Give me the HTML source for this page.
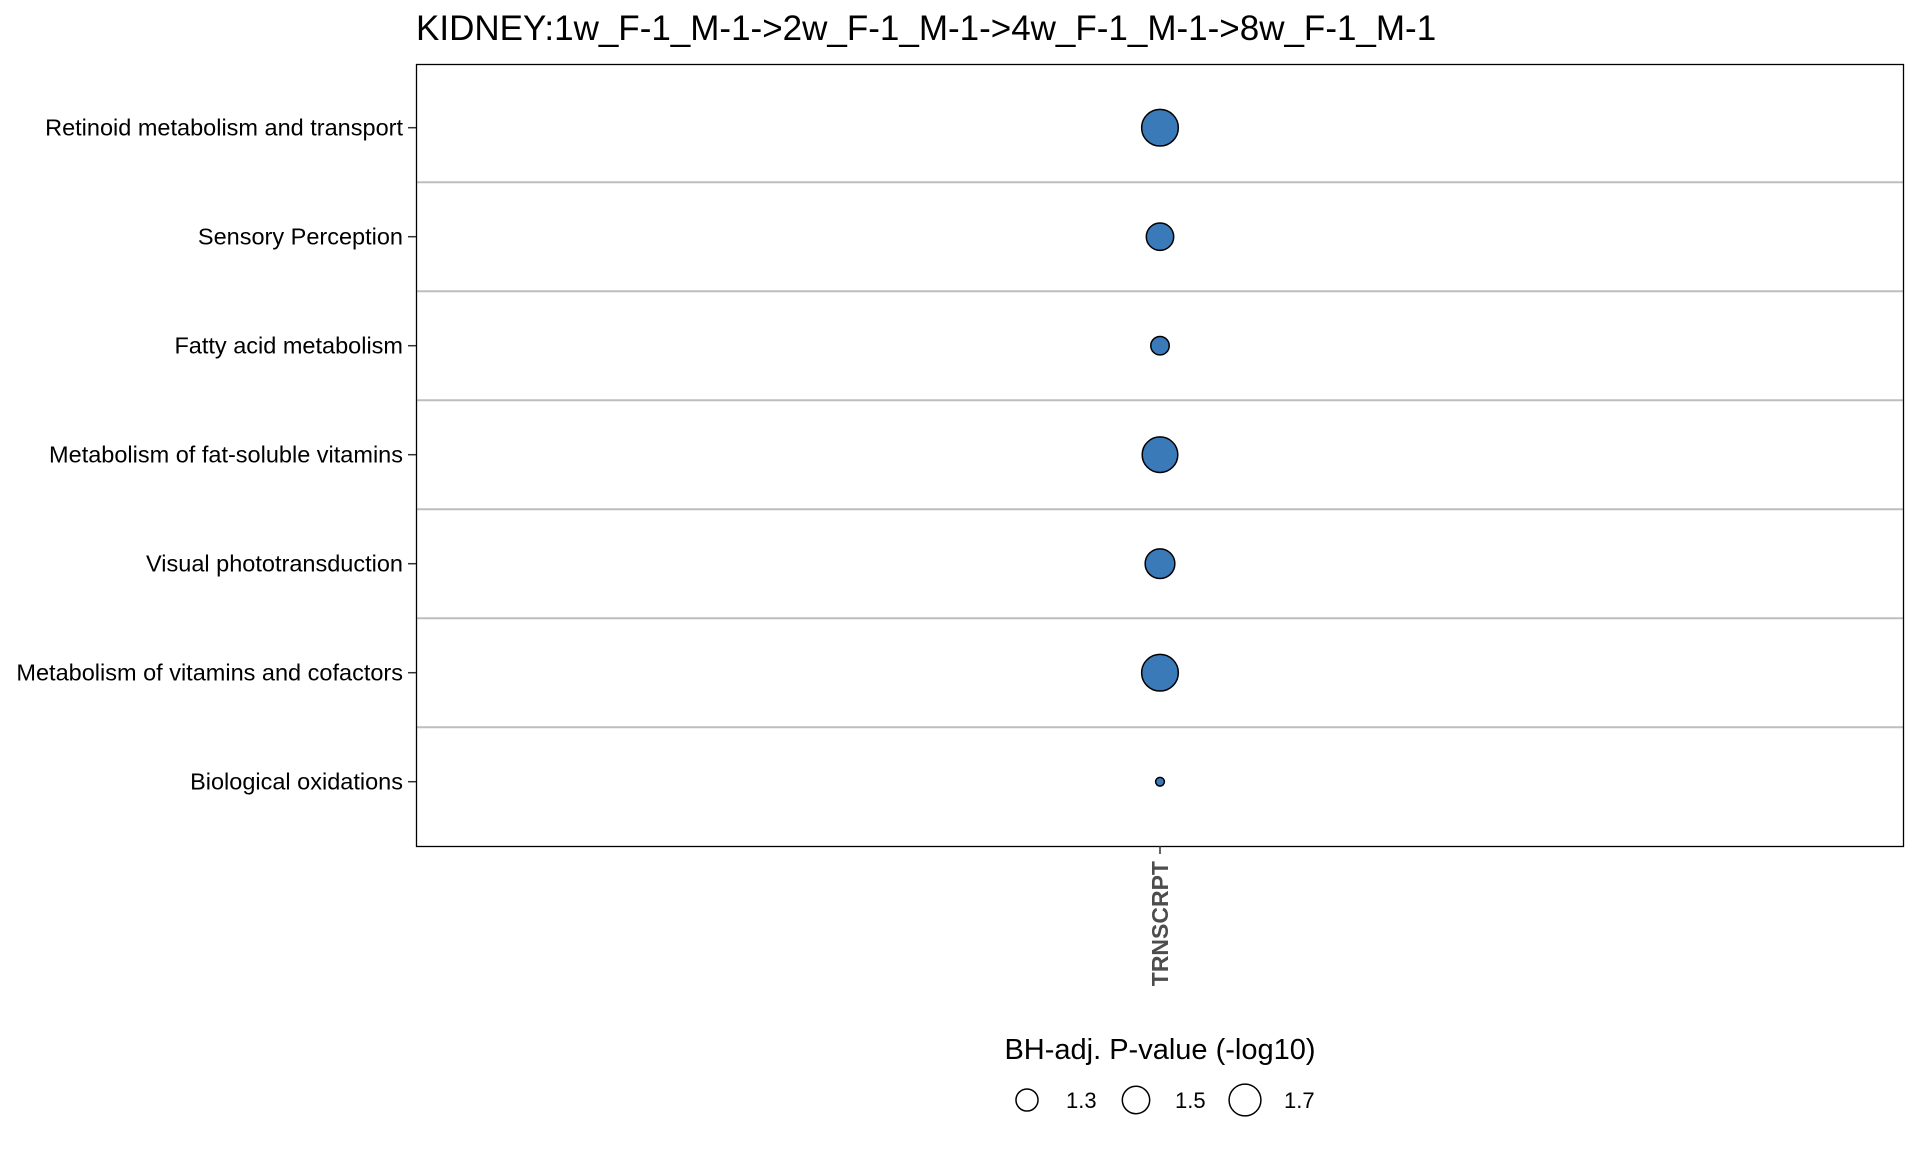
<!DOCTYPE html>
<html><head><meta charset="utf-8"><style>
body{margin:0;background:#fff;}
svg text{font-family:"Liberation Sans",Arial,sans-serif;}
</style></head><body>
<svg id="chart" width="1920" height="1152" xmlns="http://www.w3.org/2000/svg">
<text x="416" y="40" font-size="35" fill="#000">KIDNEY:1w_F-1_M-1-&gt;2w_F-1_M-1-&gt;4w_F-1_M-1-&gt;8w_F-1_M-1</text>
<g id="grid"></g>
<g id="marks"></g>
<rect x="416.5" y="64.5" width="1487" height="782" fill="none" stroke="#000" stroke-width="1.3"/>
<g id="yaxis"></g>
<line x1="1160" y1="846" x2="1160" y2="854" stroke="#333" stroke-width="1.5"/>
<text transform="translate(1168,861) rotate(-90)" text-anchor="end" font-size="23" font-weight="bold" fill="#4d4d4d">TRNSCRPT</text>
<text x="1160" y="1059" text-anchor="middle" font-size="29" fill="#000">BH-adj. P-value (-log10)</text>
<g id="legend"></g>
</svg>
<script>
const categories=["Retinoid metabolism and transport","Sensory Perception","Fatty acid metabolism","Metabolism of fat-soluble vitamins","Visual phototransduction","Metabolism of vitamins and cofactors","Biological oxidations"];
const values=[1.95,1.5,1.19,1.89,1.6,1.95,0.99];
const legendValues=[1.3,1.5,1.7];
const legendLabels=["1.3","1.5","1.7"];
const NS="http://www.w3.org/2000/svg";
const top0=64,pad=63.7,step=109,cx=1160;
function yPos(i){return top0+pad+step*i;}
function rSize(v){return 1.2245*Math.sqrt(Math.max(4,81+(v-1.3)*220));}
function mk(tag,attrs,parent){const e=document.createElementNS(NS,tag);for(const k in attrs)e.setAttribute(k,attrs[k]);parent.appendChild(e);return e;}
const grid=document.getElementById('grid'),marks=document.getElementById('marks'),yaxis=document.getElementById('yaxis'),legend=document.getElementById('legend');
categories.forEach((c,i)=>{
  const y=yPos(i);
  if(i>0){const sy=y-step/2;const l=mk('line',{x1:416,x2:1904,y1:sy,y2:sy,stroke:'#bdbdbd','stroke-width':2},grid);
    
    }
  const t=mk('line',{x1:408,x2:416,y1:y,y2:y,stroke:'#333','stroke-width':1.5},yaxis);
  
  
  const tx=mk('text',{x:403,y:y+8,'text-anchor':'end','font-size':23.5,fill:'#000'},yaxis);
  tx.textContent=c;
  
  
  const p=mk('circle',{cx:cx,cy:y,r:rSize(values[i]),fill:'#3a7ab8',stroke:'#000','stroke-width':1.5},marks);
  
  
});
const lx=[1027,1136,1245];
legendValues.forEach((v,i)=>{
  const c=mk('circle',{cx:lx[i],cy:1100,r:rSize(v),fill:'none',stroke:'#000','stroke-width':1.5},legend);
  
  
  const t=mk('text',{x:lx[i]+39,y:1108,'font-size':22,fill:'#000'},legend);
  t.textContent=legendLabels[i];
  
  
});
</script>
</body></html>
